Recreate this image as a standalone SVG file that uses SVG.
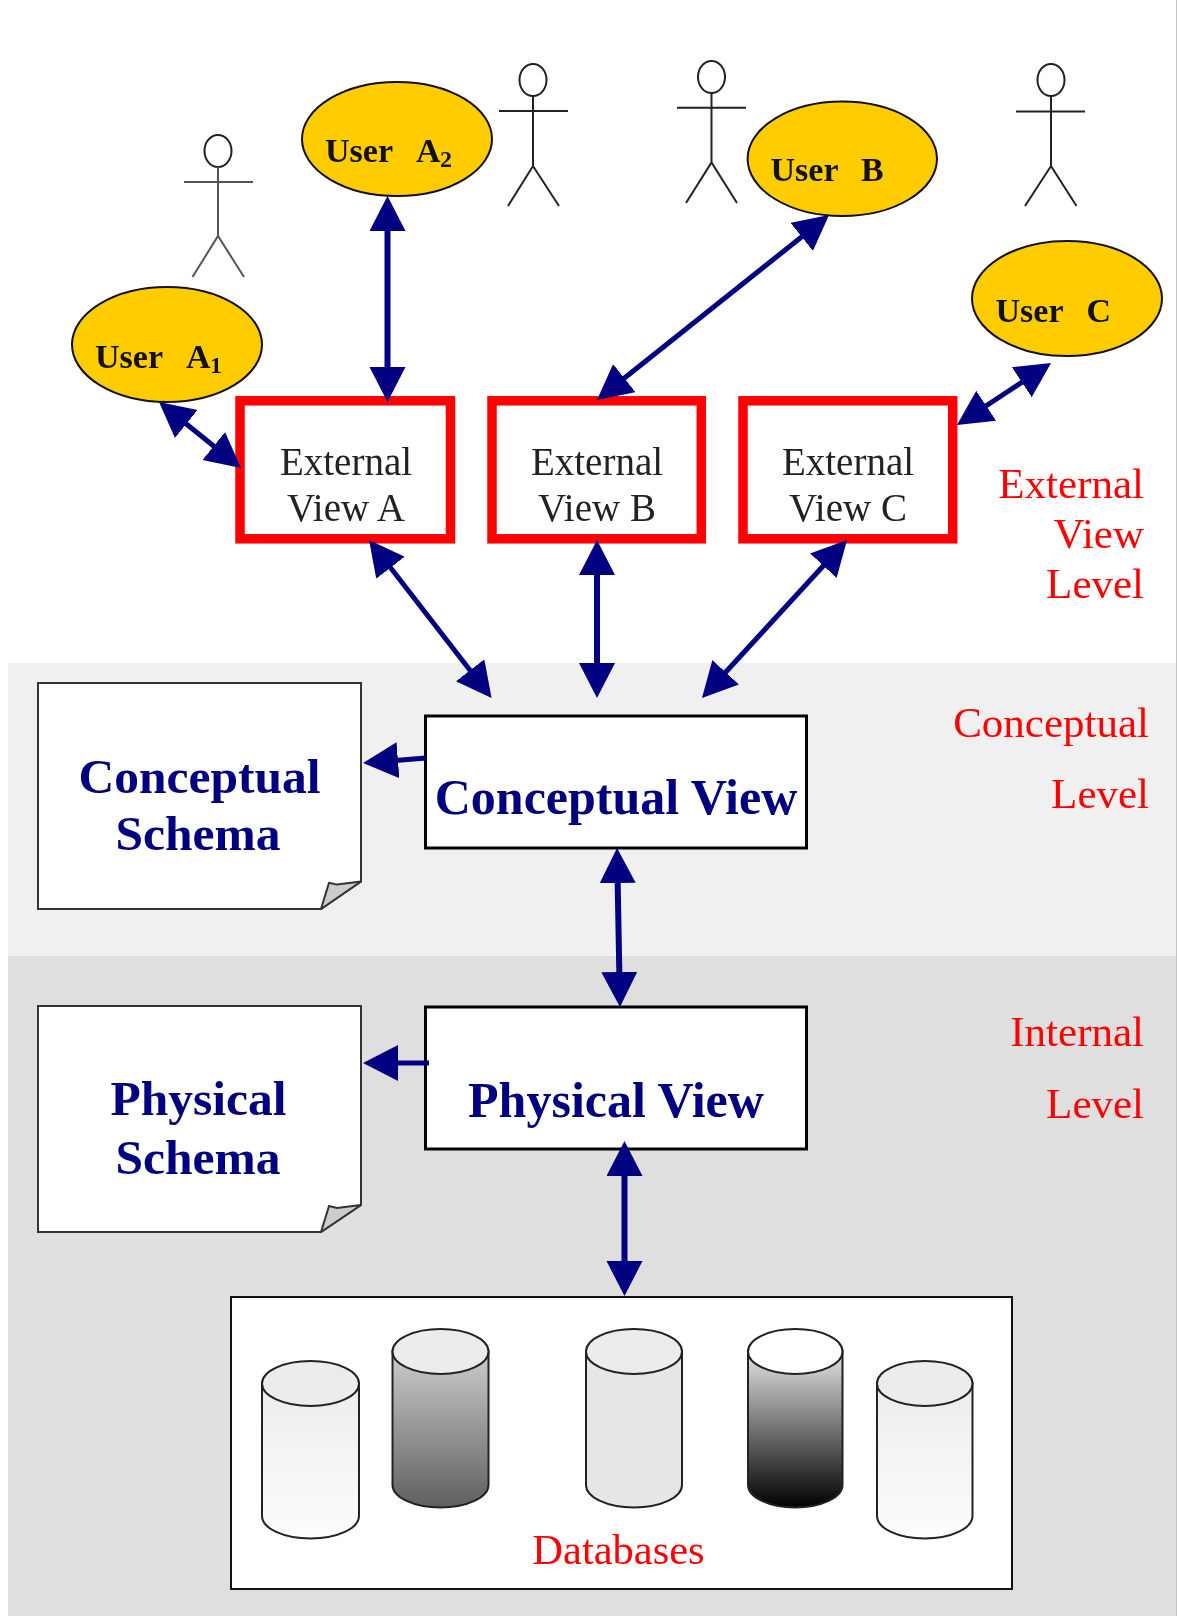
<svg xmlns="http://www.w3.org/2000/svg" width="1177" height="1616" viewBox="0 0 1177 1616">
<style>
text{font-family:"Liberation Serif","Times New Roman",serif}
.user{font-size:34px;font-weight:bold;fill:#111}
.sub{font-size:24px;font-weight:bold;fill:#111}
.ext{font-size:39px;fill:#222;text-anchor:middle}
.lvl{font-size:43px;fill:#f00;text-anchor:end}
.blue{font-size:49.500px;font-weight:bold;fill:#000080;text-anchor:middle}
.vt{font-size:50px}
.oval{fill:#fc0;stroke:#111;stroke-width:2}
.stick{fill:none;stroke:#222;stroke-width:2}
.evbox{fill:#fff;stroke:#f00;stroke-width:9.500}
.vbox{fill:#fff;stroke:#000;stroke-width:3}
.doc{fill:#fff;stroke:#333;stroke-width:2}
.fold{fill:#ccc;stroke:#333;stroke-width:2;stroke-linejoin:round}
.arrow{fill:none;stroke:#000080;stroke-width:5;marker-end:url(#head)}
.both{marker-start:url(#head)}
.thick{stroke-width:6}
.cyl{stroke:#222;stroke-width:2}
</style>
<defs>
<marker id="head" markerUnits="userSpaceOnUse" markerWidth="37" markerHeight="37" refX="15" refY="18" orient="auto-start-reverse">
<path d="M0,0 L35,18 L0,36 Z" fill="#000080"/>
</marker>
<linearGradient id="g1" x1="0" y1="0" x2="0" y2="1"><stop offset="0" stop-color="#ececec"/><stop offset="1" stop-color="#fdfdfd"/></linearGradient>
<linearGradient id="g2" x1="0" y1="0" x2="0" y2="1"><stop offset="0" stop-color="#cdcdcd"/><stop offset="1" stop-color="#5f5f5f"/></linearGradient>
<linearGradient id="g4" x1="0" y1="0" x2="0" y2="1"><stop offset="0" stop-color="#e4e4e4"/><stop offset="1" stop-color="#000"/></linearGradient>
<filter id="soft" x="0" y="0" width="100%" height="100%" color-interpolation-filters="sRGB"><feGaussianBlur stdDeviation="0.500"/></filter>
</defs>
<rect width="1177" height="1616" fill="#fff"/>
<g filter="url(#soft)">
<g id="panels">
<rect x="8" y="663" width="1169" height="293" fill="#f0f0f0"/>
<rect x="8" y="956" width="1169" height="660" fill="#dfdfdf"/>
<rect x="1176" y="0" width="1" height="1616" fill="#c4c4c4"/>
</g>

<g id="actor-a1" class="stick"><ellipse cx="218" cy="151" rx="13.500" ry="16"/><path d="M218,167V236M184,182H253M192.500,277L218,236L244,277" stroke="#555"/></g>
<g id="actor-a2" class="stick"><ellipse cx="533" cy="80" rx="13.500" ry="16"/><path d="M533,96V166M499,111H568M508,206L533,166L559,206"/></g>
<g id="actor-b" class="stick"><ellipse cx="711.500" cy="77" rx="13.500" ry="16"/><path d="M711.500,93V162.500M677,107.700H746M686,203L711.500,162.500L737,203"/></g>
<g id="actor-c" class="stick"><ellipse cx="1051" cy="80" rx="13.500" ry="16"/><path d="M1051,96V166M1016,111.500H1085M1025,206L1051,166L1076.500,206"/></g>

<g id="user-a1"><ellipse class="oval" cx="167" cy="344.500" rx="95" ry="57.500"/><text class="user" x="95" y="368">User</text><text class="user" x="186" y="368">A</text><text class="sub" x="210" y="373">1</text></g>
<g id="user-a2"><ellipse class="oval" cx="397" cy="139" rx="95" ry="57"/><text class="user" x="325" y="162">User</text><text class="user" x="416" y="162">A</text><text class="sub" x="440" y="167">2</text></g>
<g id="user-b"><ellipse class="oval" cx="842.300" cy="158.800" rx="94.700" ry="57.200"/><text class="user" x="770.500" y="181">User</text><text class="user" x="861" y="181">B</text></g>
<g id="user-c"><ellipse class="oval" cx="1067" cy="298.500" rx="95" ry="57.500"/><text class="user" x="995.500" y="322">User</text><text class="user" x="1086.500" y="322">C</text></g>

<g id="external-a"><rect class="evbox" x="240" y="400.800" width="210.500" height="138" /><text class="ext" x="346" y="475">External</text><text class="ext" x="346" y="521">View A</text></g>
<g id="external-b"><rect class="evbox" x="492" y="400.800" width="209.300" height="138"/><text class="ext" x="597" y="475">External</text><text class="ext" x="597" y="521">View B</text></g>
<g id="external-c"><rect class="evbox" x="743" y="400.800" width="209.700" height="138"/><text class="ext" x="848" y="475">External</text><text class="ext" x="848" y="521">View C</text></g>

<g id="level-external"><text class="lvl" x="1144" y="498">External</text><text class="lvl" x="1144" y="547.500">View</text><text class="lvl" x="1144" y="597.500">Level</text></g>
<g id="level-conceptual"><text class="lvl" x="1149" y="737">Conceptual</text><text class="lvl" x="1149" y="808">Level</text></g>
<g id="level-internal"><text class="lvl" x="1144" y="1046">Internal</text><text class="lvl" x="1144" y="1118">Level</text></g>

<g id="conceptual-schema"><path class="doc" d="M38,683H361V881.500L321,909H38Z"/><path class="fold" d="M321,909L329,882.700L337,884.600L361,881.500Z"/><text class="blue" x="199.500" y="793">Conceptual</text><text class="blue" x="198" y="850">Schema</text></g>
<g id="physical-schema"><path class="doc" d="M38,1006H361V1205L321,1232H38Z"/><path class="fold" d="M321,1232L329,1206L337,1208L361,1205Z"/><text class="blue" x="198.500" y="1115">Physical</text><text class="blue" x="198" y="1174">Schema</text></g>

<g id="conceptual-view"><rect class="vbox" x="425.500" y="716" width="381" height="132"/><text class="blue vt" x="616" y="814">Conceptual View</text></g>
<g id="physical-view"><rect class="vbox" x="425.500" y="1007" width="381" height="142"/><text class="blue vt" x="616" y="1117">Physical View</text></g>

<g id="databases">
<rect x="231" y="1297" width="781" height="292" fill="#fff" stroke="#111" stroke-width="2"/>
<g id="db1"><path class="cyl" fill="url(#g1)" d="M262,1383V1516A48.500,22.500 0 0 0 359,1516V1383Z"/><ellipse class="cyl" fill="#ececec" cx="310.500" cy="1383.500" rx="48.500" ry="22.500"/></g>
<g id="db2"><path class="cyl" fill="url(#g2)" d="M392.500,1351V1485A48,22.500 0 0 0 488.500,1485V1351Z"/><ellipse class="cyl" fill="#ececec" cx="440.500" cy="1351.500" rx="48" ry="22.500"/></g>
<g id="db3"><path class="cyl" fill="#e6e6e6" d="M586,1351V1485A48,22.500 0 0 0 682,1485V1351Z"/><ellipse class="cyl" fill="#ececec" cx="634" cy="1351.500" rx="48" ry="22.500"/></g>
<g id="db4"><path class="cyl" fill="url(#g4)" d="M748,1351V1485A47.250,22.500 0 0 0 842.500,1485V1351Z"/><ellipse class="cyl" fill="#fff" cx="795.250" cy="1351.500" rx="47.250" ry="22.500"/></g>
<g id="db5"><path class="cyl" fill="url(#g1)" d="M877,1383V1516A47.750,22.500 0 0 0 972.500,1516V1383Z"/><ellipse class="cyl" fill="#ececec" cx="924.750" cy="1383.500" rx="47.750" ry="22.500"/></g>
<text x="618.500" y="1564" font-size="42.500" fill="#f00" text-anchor="middle">Databases</text>
</g>

<g id="connectors">
<path class="arrow both thick" d="M387.500,216V382"/>
<path class="arrow both" d="M174.600,414.500L225.400,455.500"/>
<path class="arrow both" d="M813.400,227.500L612.600,387.500"/>
<path class="arrow both" d="M1034.300,374L973.700,414"/>
<path class="arrow both" d="M381.300,555.800L479.300,682.200"/>
<path class="arrow both thick" d="M597,560V678"/>
<path class="arrow both" d="M833.500,554.700L715.500,683.300"/>
<path class="arrow both thick" d="M617.400,868L619.600,987"/>
<path class="arrow both thick" d="M624.500,1161V1276"/>
<path class="arrow" d="M426,758L383,761.400"/>
<path class="arrow" d="M429,1063H383"/>
</g>
</g>
</svg>
